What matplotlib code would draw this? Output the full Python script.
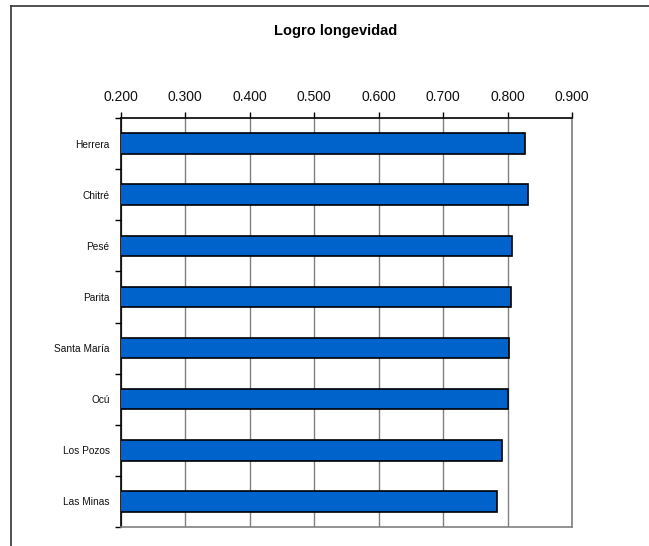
import matplotlib
matplotlib.use("Agg")
import matplotlib.pyplot as plt
from matplotlib.lines import Line2D
import numpy as np

plt.rcParams['font.family'] = ['Liberation Sans', 'DejaVu Sans']

# Data
municipios = ["Herrera", "Chitré", "Pesé", "Parita", "Santa María",
              "Ocú", "Los Pozos", "Las Minas"]
logro = [0.826, 0.832, 0.806, 0.805, 0.802, 0.800, 0.791, 0.784]
ticks = [0.2, 0.3, 0.4, 0.5, 0.6, 0.7, 0.8, 0.9]

W, H = 649, 546
fig = plt.figure(figsize=(W / 100, H / 100), dpi=100)
ax = fig.add_axes([120.7 / W, 1 - 527 / H, (572.3 - 120.7) / W, (527 - 118) / H])

y = np.arange(len(municipios))
ax.barh(y, logro, height=0.4, color="#0063CC", edgecolor="black",
        linewidth=1.2, zorder=3)

ax.set_xlim(0.2, 0.9)
ax.set_ylim(len(municipios) - 0.5, -0.5)
ax.xaxis.tick_top()
ax.set_xticks(ticks)
ax.set_xticklabels([f"{t:.3f}" for t in ticks], fontsize=10, color="#111111")
ax.tick_params(axis="x", direction="out", length=4, width=1, color="black", pad=6)
ax.grid(axis="x", color="#808080", linewidth=1, zorder=0)

ax.set_yticks(y)
ax.set_yticklabels(municipios, fontsize=7.3, color="#111111")
ax.set_yticks(np.arange(-0.5, len(municipios)), minor=True)
ax.tick_params(axis="y", which="major", length=0, pad=8)
ax.tick_params(axis="y", which="minor", direction="out", length=4, width=1, color="black")

ax.spines["top"].set_color("black")
ax.spines["left"].set_color("black")
ax.spines["right"].set_color("#808080")
ax.spines["bottom"].set_color("#808080")
for s in ax.spines.values():
    s.set_linewidth(1.2)

fig.text(336 / W, 1 - 31 / H, "Logro longevidad", ha="center", va="center",
         fontsize=10.5, fontweight="bold")

# outer chart frame (left and top visible)
fig.add_artist(Line2D([11 / W, 11 / W], [0, 1 - 6 / H], color="#333333", linewidth=1.2))
fig.add_artist(Line2D([11 / W, 1], [1 - 6 / H, 1 - 6 / H], color="#333333", linewidth=1.2))

fig.savefig("out.png", dpi=100)
